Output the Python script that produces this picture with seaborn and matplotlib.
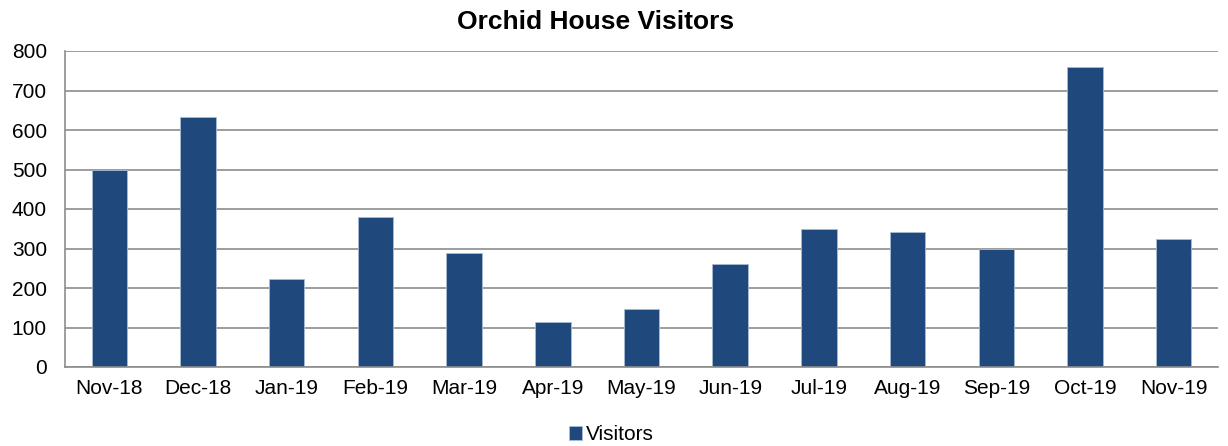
import pandas as pd
import numpy as np
import matplotlib.pyplot as plt
import seaborn as sns

months = ['Nov-18', 'Dec-18', 'Jan-19', 'Feb-19', 'Mar-19', 'Apr-19', 'May-19',
          'Jun-19', 'Jul-19', 'Aug-19', 'Sep-19', 'Oct-19', 'Nov-19']
visitors = [500, 634, 224, 381, 288, 113, 146, 260, 350, 341, 300, 760, 325]

df = pd.DataFrame({'month': months, 'Visitors': visitors, 'series': 'Visitors'})

sns.set_style("white")
plt.rcParams['font.family'] = ['Liberation Sans', 'DejaVu Sans']
plt.rcParams['text.color'] = 'black'
plt.rcParams['xtick.color'] = 'black'
plt.rcParams['ytick.color'] = 'black'

fig = plt.figure(figsize=(12.28, 4.46), dpi=100)
ax = fig.add_axes([65/1228, 1-367/446, (1218-65)/1228, (367-51)/446])

sns.barplot(df, x='month', y='Visitors', hue='series', palette=['#1F497D'],
            width=0.40, ax=ax, saturation=1, legend=True,
            edgecolor='#a9bcd6', linewidth=0.6)

ax.set_ylim(0, 800)
ax.set_xlim(-0.5, len(months) - 0.5)
ax.set_yticks(range(0, 801, 100))
ax.yaxis.grid(True, color='#8c8c8c', linewidth=1.2)
ax.set_axisbelow(True)
for s in ['top', 'right']:
    ax.spines[s].set_visible(False)
for s in ['left', 'bottom']:
    ax.spines[s].set_color('#8c8c8c')
    ax.spines[s].set_linewidth(1.2)

ax.set_xticks(np.arange(-0.5, len(months)), minor=True)
ax.tick_params(axis='x', which='major', length=0, labelsize=15, pad=9)
ax.tick_params(axis='x', which='minor', length=6, color='#8c8c8c', width=1.2)
ax.tick_params(axis='y', length=6, color='#8c8c8c', width=1.2, labelsize=15, pad=7)
ax.set_xlabel('')
ax.set_ylabel('')

fig.text(596/1228, 1-22/446, 'Orchid House Visitors', fontsize=19, fontweight='bold',
         ha='center', va='center')

ax.legend(loc='center', bbox_to_anchor=(0.474, -0.215), frameon=False,
          fontsize=15, handlelength=0.6, handleheight=0.6, handletextpad=0.2)

fig.savefig('out.png', dpi=100)
